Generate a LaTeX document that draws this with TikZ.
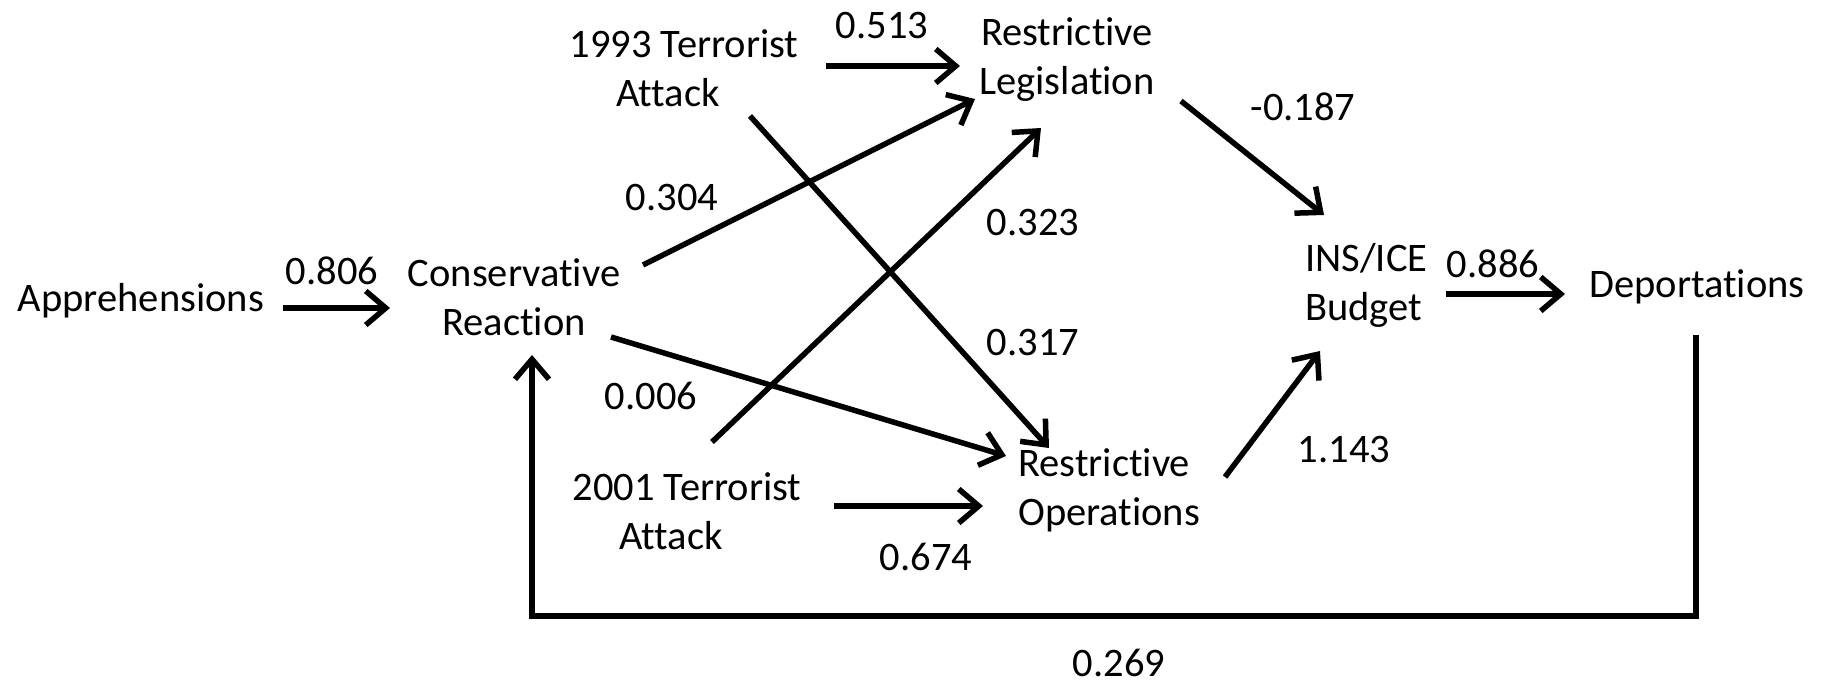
\documentclass[tikz,border=0pt]{standalone}
\usepackage{fontspec}
\setmainfont{Carlito}[Ligatures={NoCommon}]
\usetikzlibrary{arrows.meta,calc}
\begin{document}
\begin{tikzpicture}[x=1pt,y=-1pt,
  lbl/.style={inner sep=0pt,font=\fontsize{40.5}{49}\selectfont},
  var/.style={inner sep=0pt,font=\fontsize{40.5}{49}\selectfont,align=center},
  varl/.style={inner sep=0pt,font=\fontsize{40.5}{49}\selectfont,align=left,anchor=west},
  arr/.style={line width=5.5pt,-{Straight Barb[length=20pt,width=34pt]}}]
\useasboundingbox (0,0) rectangle (1824,687);
\node[var] (appr) at (141,301) {Apprehensions};
\node[var] (cons) at (514,297) {Conservative\\Reaction};
\node[var] (t93) at (684,68) {1993 Terrorist\\Attack\kern32pt};
\node[var] (leg) at (1067,60) {Restrictive\\Legislation};
\node[varl] (ops) at (1018,490) {Restrictive\\Operations};
\node[var] (t01) at (687,511) {2001 Terrorist\\Attack\kern32pt};
\node[varl] (bud) at (1305,285) {INS/ICE\\Budget};
\node[var] (dep) at (1697,287) {Deportations};

\draw[arr] ($(appr)+(142,7)$) -- ($(cons)+(-124,11)$);
\draw[arr] ($(t93)+(142,-2)$) -- ($(leg)+(-107,6)$);
\draw[arr] ($(cons)+(129,-32)$) -- ($(leg)+(-92,39)$);
\draw[arr] ($(t01)+(25,-69)$) -- ($(leg)+(-26,68)$);
\draw[arr] ($(t93)+(66,48)$) -- ($(ops.west)+(31,-42)$);
\draw[arr] ($(cons)+(97,40)$) -- ($(ops.west)+(-12,-34)$);
\draw[arr] ($(t01)+(147,-5)$) -- ($(ops.west)+(-35,16)$);
\draw[arr] ($(leg)+(114,41)$) -- ($(bud.west)+(19,-70)$);
\draw[arr] ($(ops.west)+(207,-13)$) -- ($(bud.west)+(15,66)$);
\draw[arr] ($(bud.west)+(141,9)$) -- ($(dep)+(-132,7)$);
\draw[arr] ($(dep)+(-1,48)$) -- ++(0,281) -| ($(cons)+(18,58)$);

\node[lbl] (l1) at (332,271) {0.806};
\node[lbl] (l2) at (882,26) {0.513};
\node[lbl] (l3) at (672,198) {0.304};
\node[lbl] (l4) at (1033,223) {0.323};
\node[lbl] (l5) at (1033,343) {0.317};
\node[lbl] (l6) at (651,396) {0.006};
\node[lbl] (l7) at (1303,107) {-0.187};
\node[lbl] (l8) at (1344,450) {1.143};
\node[lbl] (l9) at (1493,264) {0.886};
\node[lbl] (l10) at (926,557) {0.674};
\node[lbl] (l11) at (1119,663) {0.269};
\end{tikzpicture}
\end{document}
